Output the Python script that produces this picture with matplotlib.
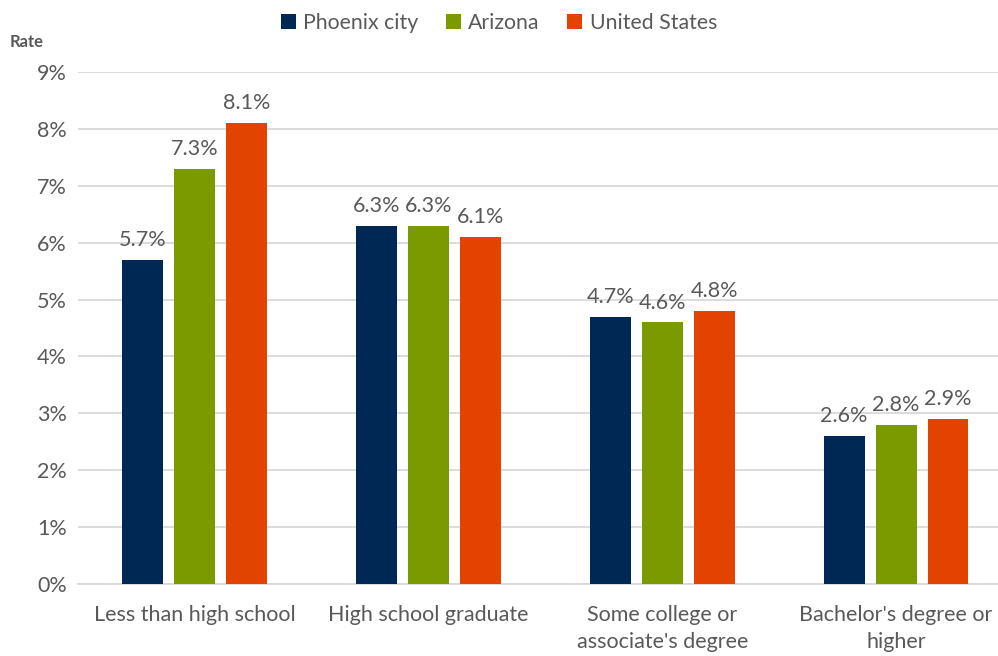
import matplotlib
matplotlib.use("Agg")
import matplotlib.pyplot as plt
import numpy as np

categories = ["Less than high school", "High school graduate",
              "Some college or\nassociate's degree", "Bachelor's degree or\nhigher"]
series = ["Phoenix city", "Arizona", "United States"]
phoenix = [5.7, 6.3, 4.7, 2.6]
arizona = [7.3, 6.3, 4.6, 2.8]
us = [8.1, 6.1, 4.8, 2.9]
yticks = [0, 1, 2, 3, 4, 5, 6, 7, 8, 9]
colors = ["#002855", "#7A9A00", "#E24400"]

plt.rcParams['font.family'] = ['Lato', 'DejaVu Sans']
fig = plt.figure(figsize=(9.98, 6.56), dpi=100)
ax = fig.add_axes([0.078, 0.1098, 0.937, 0.7805])

x = np.arange(len(categories))
w = 0.175
step = 0.222
txt = "#595959"
for i, (name, vals, c) in enumerate(zip(series, [phoenix, arizona, us], colors)):
    pos = x + (i - 1) * step
    ax.bar(pos, vals, width=w, color=c, label=name, zorder=3)
    for p, v in zip(pos, vals):
        ax.text(p, v + 0.17, f"{v:.1f}%", ha="center", va="bottom", fontsize=15.5, color=txt)

ax.set_xlim(-0.5, 3.5)
ax.set_ylim(0, 9)
ax.set_yticks(yticks)
ax.set_yticklabels([f"{t}%" for t in yticks], fontsize=15.5, color=txt)
ax.set_xticks(x)
ax.set_xticklabels(categories, fontsize=15.5, color=txt, linespacing=1.45)
ax.tick_params(axis="x", length=0, pad=15)
ax.tick_params(axis="y", length=0, pad=8)
ax.grid(axis="y", color="#D9D9D9", linewidth=1.3, zorder=0)
for s in ["top", "right", "left"]:
    ax.spines[s].set_visible(False)
ax.spines["bottom"].set_color("#D9D9D9")
ax.spines["bottom"].set_linewidth(1.3)

fig.text(0.01, 0.936, "Rate", fontsize=12, fontweight="bold", color=txt, ha="left", va="center")
leg = fig.legend(loc="upper center", bbox_to_anchor=(0.5, 1.01), ncol=3, frameon=False,
                 fontsize=15.3, handlelength=0.7, handleheight=0.7, handletextpad=0.35,
                 columnspacing=1.3)
for t in leg.get_texts():
    t.set_color(txt)
fig.savefig("out.png", dpi=100)
